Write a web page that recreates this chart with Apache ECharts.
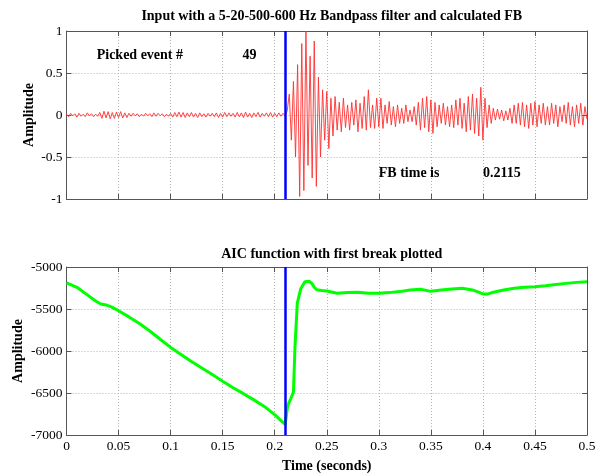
<!DOCTYPE html>
<html>
<head>
<meta charset="utf-8">
<script src="https://cdn.jsdelivr.net/npm/echarts@6/dist/echarts.min.js"></script>
<style>html,body{margin:0;padding:0;background:#fff}#c{width:600px;height:474px}</style>
</head>
<body>
<div id="c"></div>
<script>
// ---- data ----
var titleTop = 'Input with a 5-20-500-600 Hz Bandpass filter and calculated FB';
var titleBottom = 'AIC function with first break plotted';
var xTicks = [0, 0.05, 0.1, 0.15, 0.2, 0.25, 0.3, 0.35, 0.4, 0.45, 0.5];
var fbTime = 0.2115;
var pickedEvent = 49;
var traceDt = 0.002; // sample interval (s)
var traceValues = [
  0.01,-0.02,0.02,-0.01,0.015,-0.025,0.02,-0.015,0.01,-0.02,0.025,-0.01,0.015,-0.02,0.01,-0.015,
  0.03,-0.04,0.045,-0.035,0.04,-0.045,0.03,-0.04,0.035,-0.03,0.04,-0.035,0.025,-0.03,0.02,
  -0.015,0.02,-0.01,0.015,-0.02,0.01,-0.015,0.02,-0.01,0.015,-0.02,0.025,-0.015,0.02,-0.01,0.015,-0.02,0.01,-0.015,0.02,
  -0.025,0.03,-0.02,0.035,-0.025,0.03,-0.03,0.025,-0.02,0.03,-0.025,0.02,-0.03,0.025,-0.02,0.015,-0.025,0.02,-0.015,0.02,
  -0.02,0.025,-0.03,0.02,-0.025,0.03,-0.02,0.025,-0.015,0.02,-0.025,0.03,-0.02,0.025,-0.03,0.035,-0.025,0.02,-0.03,0.025,
  -0.02,0.03,-0.025,0.02,-0.015,0.025,-0.02,0.03,-0.025,0.02,-0.02,0.025,-0.015,0.02,-0.01,
  0.05,0.25,-0.3,0.4,-0.5,0.6,-0.97,0.85,-0.9,1.0,-0.6,0.7,-0.75,0.88,-0.85,0.45,-0.5,0.3,-0.3,0.28,
  -0.4,0.2,-0.25,0.22,-0.18,0.15,-0.2,0.2,-0.15,0.12,-0.18,0.15,-0.12,0.18,-0.2,0.14,-0.16,0.22,-0.18,0.3,
  -0.15,0.12,-0.16,0.2,-0.14,0.2,-0.16,0.12,-0.1,0.16,-0.12,0.1,-0.14,0.12,-0.1,0.08,-0.1,0.12,-0.08,0.06,
  -0.08,0.1,-0.12,0.15,-0.18,0.2,-0.15,0.22,-0.2,0.18,-0.22,0.15,-0.14,0.12,-0.1,0.14,-0.12,0.1,-0.14,0.12,
  -0.15,0.18,-0.12,0.2,-0.16,0.14,-0.2,0.22,-0.18,0.25,-0.22,0.2,-0.25,0.33,-0.3,0.2,-0.15,0.12,-0.1,0.08,
  -0.06,0.07,-0.05,0.06,-0.07,0.05,-0.06,0.08,-0.1,0.12,-0.1,0.14,-0.12,0.15,-0.14,0.12,-0.16,0.14,-0.12,0.16,
  -0.14,0.12,-0.1,0.14,-0.12,0.1,-0.12,0.14,-0.1,0.12,-0.14,0.1,-0.08,0.12,-0.1,0.15,-0.12,0.1,-0.14,0.12,
  -0.1,0.14,-0.12,0.1,-0.05
];
var aicTime = [0,0.01,0.02,0.028,0.033,0.038,0.043,0.05,0.06,0.07,0.08,0.09,0.1,0.12,0.14,0.15,0.16,0.17,0.18,0.19,0.2,0.205,0.21,0.2115,
  0.2125,0.215,0.218,0.2195,0.2217,0.225,0.229,0.233,0.2356,0.238,0.2404,0.245,0.25,0.26,0.27,0.28,0.29,0.3,0.31,0.32,0.33,0.34,0.35,
  0.36,0.37,0.38,0.39,0.4,0.405,0.41,0.42,0.43,0.44,0.45,0.46,0.47,0.48,0.49,0.5];
var aicValue = [-5190,-5242,-5332,-5405,-5440,-5452,-5475,-5520,-5594,-5672,-5762,-5860,-5957,-6125,-6281,-6360,-6437,-6508,-6582,-6660,-6757,-6816,-6875,-6890,
  -6650,-6580,-6490,-5950,-5430,-5260,-5175,-5170,-5195,-5240,-5272,-5280,-5285,-5312,-5305,-5300,-5312,-5312,-5305,-5293,-5273,-5265,-5290,
  -5273,-5262,-5254,-5273,-5320,-5320,-5300,-5273,-5254,-5242,-5234,-5222,-5207,-5195,-5183,-5175];
var notesTop = [
  {t: 0.029, v: 0.71, text: 'Picked event #'},
  {t: 0.169, v: 0.71, text: String(pickedEvent)},
  {t: 0.300, v: -0.70, text: 'FB time is'},
  {t: 0.400, v: -0.70, text: String(fbTime)}
];

// ---- chart ----
var FONT = '"Liberation Serif","Times New Roman",serif';
var traceData = traceValues.map(function (v, i) { return [+(i * traceDt).toFixed(4), v]; });
var aicData = aicTime.map(function (t, i) { return [t, aicValue[i]]; });

var gridL = 66.5, gridR = 13;
var axisLineStyle = {color: '#555', width: 1};
var splitStyle = {show: true, lineStyle: {color: '#b4b4b4', type: [1, 2], width: 1}};
function xAx(grid, pos, labels, name) {
  return {
    type: 'value', gridIndex: grid, position: pos, min: 0, max: 0.5, interval: 0.05,
    axisLine: {show: true, onZero: false, lineStyle: axisLineStyle},
    axisTick: {show: true, inside: true, length: 5, lineStyle: axisLineStyle},
    axisLabel: {show: labels, color: '#000', fontFamily: FONT, fontSize: 13.5, margin: 4,
      formatter: function (v) { return String(+v.toFixed(2)); }},
    splitLine: pos === 'bottom' ? splitStyle : {show: false},
    name: name || '', nameLocation: 'middle', nameGap: 24, nameMoveOverlap: false,
    nameTextStyle: {color: '#000', fontFamily: FONT, fontSize: 14, fontWeight: 'bold'}
  };
}
function yAx(grid, pos, min, max, iv, labels, gap) {
  return {
    type: 'value', gridIndex: grid, position: pos, min: min, max: max, interval: iv,
    axisLine: {show: true, onZero: false, lineStyle: axisLineStyle},
    axisTick: {show: true, inside: true, length: 5, lineStyle: axisLineStyle},
    axisLabel: {show: labels, color: '#000', fontFamily: FONT, fontSize: 13.5, margin: 4,
      formatter: function (v) { return String(v); }},
    splitLine: pos === 'left' ? splitStyle : {show: false},
    name: pos === 'left' ? 'Amplitude' : '', nameLocation: 'middle', nameGap: gap || 30, nameRotate: 90,
    nameMoveOverlap: false,
    nameTextStyle: {color: '#000', fontFamily: FONT, fontSize: 14, fontWeight: 'bold'}
  };
}
var fbLine = {
  silent: true, symbol: 'none', animation: false,
  label: {show: false},
  emphasis: {disabled: true},
  lineStyle: {color: '#0000ff', width: 2.5, type: 'solid'},
  data: [{xAxis: fbTime}]
};

var chart = echarts.init(document.getElementById('c'), null, {renderer: 'canvas'});
chart.setOption({
  animation: false,
  backgroundColor: '#fff',
  title: [
    {text: titleTop, left: (gridL + 600 - gridR) / 2, textAlign: 'center', top: 4,
      textStyle: {fontFamily: FONT, fontSize: 14, fontWeight: 'bold', color: '#000'}},
    {text: titleBottom, left: (gridL + 600 - gridR) / 2, textAlign: 'center', top: 242,
      textStyle: {fontFamily: FONT, fontSize: 14, fontWeight: 'bold', color: '#000'}}
  ],
  grid: [
    {left: gridL, right: gridR, top: 31, height: 168},
    {left: gridL, right: gridR, top: 267, height: 169}
  ],
  xAxis: [xAx(0, 'bottom', false), xAx(0, 'top', false), xAx(1, 'bottom', true, 'Time (seconds)'), xAx(1, 'top', false)],
  yAxis: [yAx(0, 'left', -1, 1, 0.5, true, 30), yAx(0, 'right', -1, 1, 0.5, false),
          yAx(1, 'left', -7000, -5000, 500, true, 41), yAx(1, 'right', -7000, -5000, 500, false)],
  series: [
    {type: 'line', xAxisIndex: 0, yAxisIndex: 0, data: traceData, showSymbol: false, symbol: 'none',
      lineStyle: {color: '#ff3030', width: 0.9}, z: 2, silent: true, markLine: fbLine},
    {type: 'scatter', xAxisIndex: 0, yAxisIndex: 0, symbolSize: 0, z: 5, silent: true,
      emphasis: {disabled: true},
      data: notesTop.map(function (n) { return {value: [n.t, n.v], name: n.text}; }),
      label: {show: true, position: 'right', distance: 0, color: '#000', opacity: 1, fontFamily: FONT, fontSize: 14, fontWeight: 'bold',
        formatter: function (p) { return p.name; }}},
    {type: 'line', xAxisIndex: 2, yAxisIndex: 2, data: aicData, showSymbol: false, symbol: 'none', silent: true,
      lineStyle: {color: '#00ff00', width: 3}, z: 3, markLine: fbLine}
  ]
});
</script>
</body>
</html>
